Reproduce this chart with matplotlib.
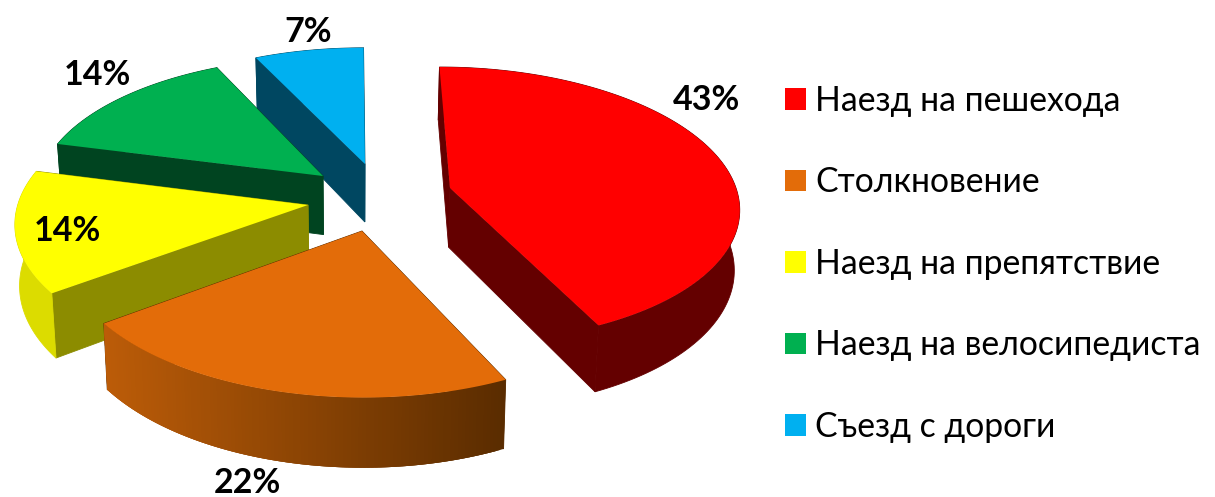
import numpy as np
import matplotlib
matplotlib.use('Agg')
import matplotlib.pyplot as plt
from matplotlib.patches import Patch, Polygon
from matplotlib.colors import to_rgb

categories = ['Наезд на пешехода', 'Столкновение', 'Наезд на препятствие',
              'Наезд на велосипедиста', 'Съезд с дороги']
values = [43, 22, 14, 14, 7]

top_colors = ['#FF0000', '#E36C09', '#FFFF00', '#00B050', '#00B0F0']
cut_colors = ['#640000', '#5A2C00', '#8C8C00', '#004420', '#004761']
wall_left = ['#640000', '#BC5C08', '#DCDC00', '#004420', '#004761']
wall_right = ['#640000', '#5A2C00', '#DCDC00', '#004420', '#004761']

# slice tips on screen, and the baseline where each percentage goes
tips = [(450, 188), (362, 231), (308, 205), (323, 176), (365, 164)]
label_pos = [(706, 110), (247, 493), (67, 241), (97, 85), (308, 42)]

# camera
cx, cy = 351.3, 164.6
sx_scale, sy_scale = 280.1, 129.9
persp = 0.117
depth = 58
shrink = 0.014


def project(X, Y, z=0.0):
    w = 1 + persp * Y
    px = cx + sx_scale * X / w * (1 - shrink * z)
    py = cy - sy_scale * Y / w + depth * z / w
    return px, py


def unproject(px, py):
    u = (px - cx) / sx_scale
    v = (cy - py) / sy_scale
    Y = v / (1 - persp * v)
    return u * (1 + persp * Y), Y


fig = plt.figure(figsize=(12.15, 4.97), dpi=100)
ax = fig.add_axes([0, 0, 1, 1])
ax.set_xlim(0, 1215)
ax.set_ylim(497, 0)
ax.axis('off')

edges = np.cumsum([0] + values) / sum(values) * 2 * np.pi
order = [4, 3, 2, 1, 0]  # back to front
for i in order:
    X0, Y0 = unproject(*tips[i])
    t = np.linspace(edges[i], edges[i + 1], 120)
    X = X0 + np.sin(t)
    Y = Y0 + np.cos(t)
    tx, ty = project(X, Y)
    bx, by = project(X, Y, 1.0)
    ax0, ay0 = project(X0, Y0)
    ax1, ay1 = project(X0, Y0, 1.0)

    # the two cut faces
    for k in (0, -1):
        ax.add_patch(Polygon([(ax0, ay0), (tx[k], ty[k]), (bx[k], by[k]), (ax1, ay1)],
                             closed=True, fc=cut_colors[i], ec=cut_colors[i], lw=0.6))

    # curved outer wall, shaded along x; strips overlap so no seams show
    c0 = np.array(to_rgb(wall_left[i]))
    c1 = np.array(to_rgb(wall_right[i]))
    lo, hi = tx.min(), tx.max()
    if wall_left[i] == wall_right[i]:
        ax.add_patch(Polygon(np.column_stack([np.r_[tx, bx[::-1]], np.r_[ty, by[::-1]]]),
                             closed=True, fc=c0, ec=c0, lw=0.6))
    else:
        for j in range(len(t) - 1):
            f = ((tx[j] + tx[j + 1]) / 2 - lo) / (hi - lo)
            col = c0 + (c1 - c0) * f
            e = min(j + 3, len(t) - 1)
            ax.add_patch(Polygon([(tx[j], ty[j]), (tx[e], ty[e]), (bx[e], by[e]), (bx[j], by[j])],
                                 closed=True, fc=col, ec='none'))

    ax.add_patch(Polygon(np.column_stack([np.r_[ax0, tx], np.r_[ay0, ty]]), closed=True,
                         fc=top_colors[i], ec='none'))

for v, (lx, ly) in zip(values, label_pos):
    ax.text(lx, ly, '%d%%' % v, ha='center', va='baseline', fontsize=24.5,
            fontweight='bold', family='Lato', color='black')

handles = [Patch(fc=c, ec='none', label=n) for c, n in zip(top_colors, categories)]
ax.legend(handles=handles, loc='upper left', bbox_to_anchor=(785 / 1215, 1 - 85 / 497),
          frameon=False, borderpad=0, borderaxespad=0,
          handlelength=0.62, handleheight=0.62, handletextpad=0.28, labelspacing=1.465,
          prop={'family': 'Lato', 'size': 24.3})

fig.savefig('out.png', dpi=100)
